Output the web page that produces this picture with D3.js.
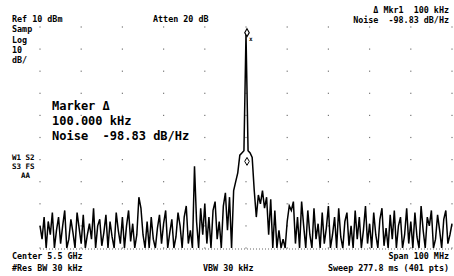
<!DOCTYPE html>
<html>
<head>
<meta charset="utf-8">
<script src="https://cdn.jsdelivr.net/npm/d3@7"></script>
<style>
  body { margin: 0; background: #fff; }
  text { font-family: "DejaVu Sans Mono", monospace; fill: #000; white-space: pre; }
</style>
</head>
<body>
<div id="chart"></div>
<script>
// Sweep settings
const freqStart = 5450;   // MHz
const freqStop = 5550;    // MHz
const refLevel = 10;      // dBm
const dbPerDiv = 10;

// Trace in dBm, 201 samples across the span
const traceDbm = [
  -80,-86,-76,-90,-78,-84,-74,-90,-82,-76,-88,-80,-73,-90,-86,-77,-83,-90,-74,-81,-88,-75,-90,-84,-79,
  -86,-72,-90,-80,-77,-89,-83,-75,-90,-78,-85,-90,-74,-82,-88,-76,-90,-80,-73,-87,-79,-90,-84,-67,-72,
  -84,-90,-78,-90,-76,-86,-90,-81,-75,-88,-79,-73,-90,-83,-77,-90,-85,-74,-80,-90,-76,-71,-88,-82,-90,
  -53,-78,-90,-72,-84,-70,-88,-76,-90,-73,-69,-86,-78,-90,-71,-65,-82,-67,-90,-64,-60,-56,-48,-47,-46,
  7,
  -46,-47,-49,-64,-76,-66,-70,-64,-72,-67,-84,-68,-90,-73,-90,-82,-90,-86,-90,-78,-71,-73,-69,-88,-76,
  -90,-69,-80,-90,-73,-84,-90,-72,-86,-79,-90,-74,-88,-81,-71,-90,-84,-76,-90,-72,-85,-90,-78,-74,-89,
  -80,-90,-73,-86,-76,-90,-82,-71,-88,-79,-90,-74,-84,-90,-77,-72,-89,-81,-90,-75,-86,-73,-90,-80,-76,
  -90,-84,-72,-88,-78,-90,-74,-85,-90,-71,-82,-90,-76,-80,-73,-90,-86,-75,-82,-90,-77,-73,-88,-84,-79
];

// Annotation texts
const leftHeader = ["Ref 10 dBm", "Samp", "Log", "10", "dB/"];
const rightHeader = ["\u0394 Mkr1  100 kHz", "Noise  -98.83 dB/Hz"];
const markerBox = ["Marker \u0394", "100.000 kHz", "Noise  -98.83 dB/Hz"];
const statusLines = ["W1 S2", "S3 FS", "  AA"];
const footerLeft = ["Center 5.5 GHz", "#Res BW 30 kHz"];
const footerRight = ["Span 100 MHz", "Sweep 277.8 ms (401 pts)"];

const width = 454;
const height = 276;

const svg = d3.select("#chart")
  .append("svg")
  .attr("width", width)
  .attr("height", height);

const x = d3.scaleLinear().domain([freqStart, freqStop]).range([40, 452]);
const y = d3.scaleLinear()
  .domain([refLevel - 10 * dbPerDiv, refLevel])
  .range([248, 27])
  .clamp(true);

// Graticule: faint dots at the division crossings
const xDivs = d3.range(11).map(i => freqStart + i * (freqStop - freqStart) / 10);
const yDivs = d3.range(11).map(i => refLevel - i * dbPerDiv);
const cross = [];
xDivs.forEach(f => yDivs.forEach(d => cross.push({ f, d })));
svg.append("g")
  .selectAll("rect")
  .data(cross)
  .join("rect")
  .attr("x", d => x(d.f) - 0.6)
  .attr("y", d => y(d.d) - 0.6)
  .attr("width", 1.2)
  .attr("height", 1.2)
  .attr("fill", "#777");

// bottom dotted line
svg.append("line")
  .attr("x1", x(freqStart)).attr("x2", x(freqStop))
  .attr("y1", y(-90) + 1).attr("y2", y(-90) + 1)
  .attr("stroke", "#666")
  .attr("stroke-width", 1)
  .attr("stroke-dasharray", "1,2");

// Trace
const step = (freqStop - freqStart) / (traceDbm.length - 1);
const line = d3.line()
  .x((d, i) => x(freqStart + i * step))
  .y(d => y(d));

svg.append("path")
  .datum(traceDbm)
  .attr("fill", "none")
  .attr("stroke", "#000")
  .attr("stroke-width", 1.5)
  .attr("stroke-linejoin", "miter")
  .attr("d", line);

// Markers at the carrier
const peakIdx = traceDbm.indexOf(d3.max(traceDbm));
const pf = freqStart + peakIdx * step;
const diamond = d3.symbol().type(d3.symbolDiamond).size(18);
svg.append("path")
  .attr("d", diamond())
  .attr("transform", `translate(${x(pf) + 1},${y(traceDbm[peakIdx]) - 1})`)
  .attr("fill", "#fff")
  .attr("stroke", "#000")
  .attr("stroke-width", 1.1);
svg.append("text")
  .attr("x", x(pf) + 3)
  .attr("y", y(traceDbm[peakIdx]) + 7)
  .style("font-size", "6px")
  .style("font-weight", "bold")
  .text("x");
svg.append("path")
  .attr("d", diamond())
  .attr("transform", `translate(${x(pf) + 1},${y(-49) + 4})`)
  .attr("fill", "#fff")
  .attr("stroke", "#000")
  .attr("stroke-width", 1);

// Header texts
const small = "8.4px";
svg.append("g").selectAll("text")
  .data(leftHeader)
  .join("text")
  .attr("x", 12)
  .attr("y", (d, i) => 22 + i * 10.3)
  .style("font-size", small)
  .style("font-weight", "bold")
  .text(d => d);

svg.append("text")
  .attr("x", 153)
  .attr("y", 22)
  .style("font-size", small)
  .style("font-weight", "bold")
  .text("Atten 20 dB");

svg.append("g").selectAll("text")
  .data(rightHeader)
  .join("text")
  .attr("x", 449)
  .attr("y", (d, i) => 13 + i * 9.5)
  .attr("text-anchor", "end")
  .style("font-size", small)
  .style("font-weight", "bold")
  .text(d => d);

// Marker readout block
svg.append("g").selectAll("text")
  .data(markerBox)
  .join("text")
  .attr("x", 52)
  .attr("y", (d, i) => 110 + i * 15)
  .style("font-size", "12px")
  .style("font-weight", "bold")
  .text(d => d);

svg.append("g").selectAll("text")
  .data(statusLines)
  .join("text")
  .attr("x", 12)
  .attr("y", (d, i) => 160 + i * 8.8)
  .style("font-size", "7.5px")
  .style("font-weight", "bold")
  .text(d => d);

// Footer
svg.append("g").selectAll("text")
  .data(footerLeft)
  .join("text")
  .attr("x", 12)
  .attr("y", (d, i) => 259 + i * 12)
  .style("font-size", small)
  .style("font-weight", "bold")
  .text(d => d);

svg.append("text")
  .attr("x", 203)
  .attr("y", 271)
  .style("font-size", small)
  .style("font-weight", "bold")
  .text("VBW 30 kHz");

svg.append("g").selectAll("text")
  .data(footerRight)
  .join("text")
  .attr("x", 449)
  .attr("y", (d, i) => 259 + i * 12)
  .attr("text-anchor", "end")
  .style("font-size", small)
  .style("font-weight", "bold")
  .text(d => d);
</script>
</body>
</html>
